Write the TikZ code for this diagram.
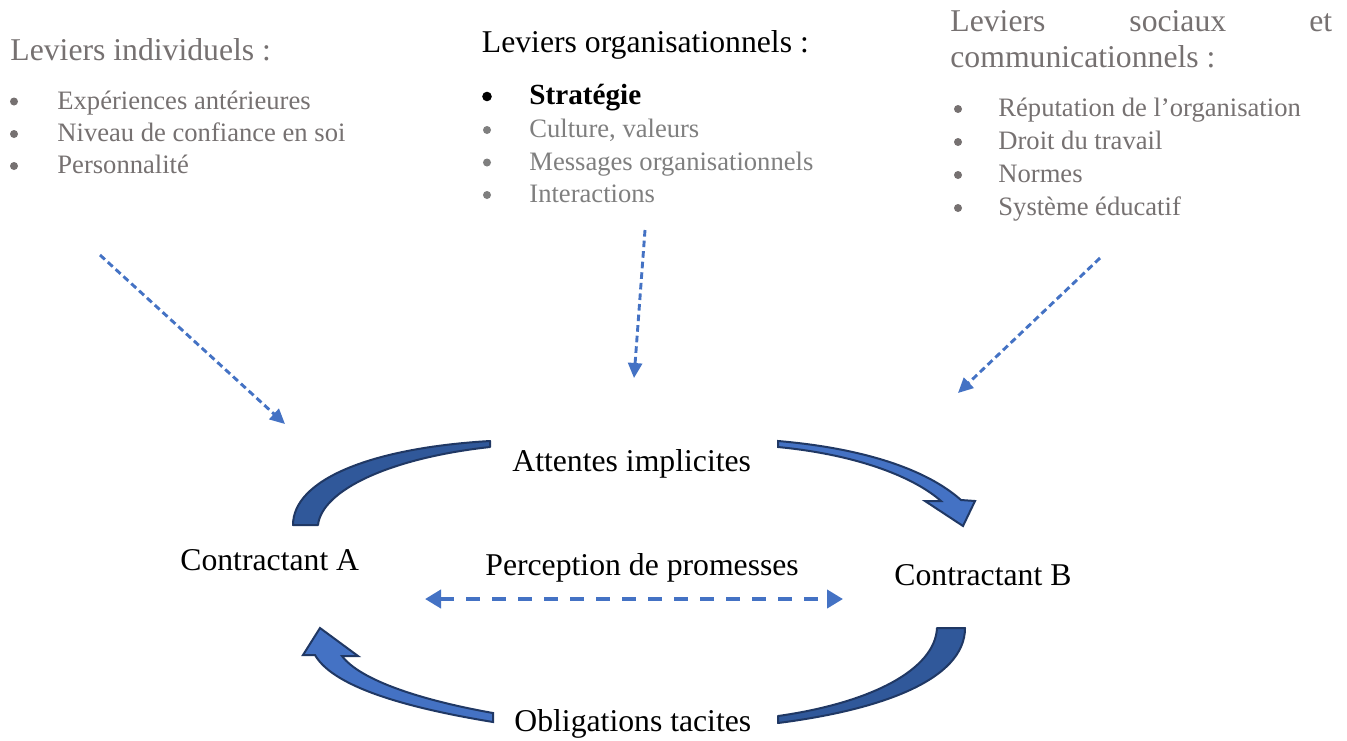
\documentclass[tikz,border=0pt]{standalone}
\usepackage{fontspec}
\setmainfont{Liberation Serif}
\usetikzlibrary{arrows.meta}
\definecolor{levgray}{HTML}{767171}
\definecolor{itemgray}{HTML}{7F7F7F}
\definecolor{arrowblue}{HTML}{4472C4}
\definecolor{darkfill}{HTML}{30589A}
\definecolor{edgenavy}{HTML}{203864}
\tikzset{
  lev/.style={font=\fontsize{15.85}{18}\selectfont, text=levgray, inner sep=0pt, anchor=base west},
  item/.style={font=\fontsize{13.3}{16}\selectfont, text=levgray, inner sep=0pt, anchor=base west},
  itemb/.style={font=\fontsize{13.3}{16}\selectfont, text=itemgray, inner sep=0pt, anchor=base west},
  lab/.style={font=\fontsize{15.85}{18}\selectfont, text=black, inner sep=0pt, anchor=base west},
  bul/.style={fill=levgray},
  dasharrow/.style={draw=arrowblue, line width=1.45pt, dash pattern=on 3.3pt off 2pt, -{Triangle[length=7.5pt,width=7pt]}},
  dblarrow/.style={draw=arrowblue, line width=2.3pt, dash pattern=on 7pt off 6pt, {Triangle[length=8pt,width=9pt]}-{Triangle[length=8pt,width=9pt]}},
  bandD/.style={fill=darkfill, draw=edgenavy, line width=1pt, line join=round},
  bandL/.style={fill=arrowblue, draw=edgenavy, line width=1pt, line join=miter},
}
\begin{document}
\begin{tikzpicture}[x=0.5pt, y=-0.5pt]
\fill[white] (0,0) rectangle (1347,740);
\useasboundingbox (0,0) rectangle (1347,740);

% Left lever group
\node[lev] (li) at (10,60) {Leviers individuels :};
\fill[bul] (14,101.5) circle (4);
\node[item] (li1) at (57,109) {Expériences antérieures};
\fill[bul] (14,134) circle (4);
\node[item] (li2) at (57,141.5) {Niveau de confiance en soi};
\fill[bul] (14,166) circle (4);
\node[item] (li3) at (57,173.5) {Personnalité};

% Middle lever group
\node[lab] (lo) at (481.5,52) {Leviers organisationnels :};
\fill[black] (487,96.5) circle (4.8);
\node[lab, font=\fontsize{14.6}{17}\selectfont\bfseries] (lo1) at (529,104.5) {Stratégie};
\fill[fill=itemgray] (487,130) circle (4);
\node[itemb] (lo2) at (529,137.5) {Culture, valeurs};
\fill[fill=itemgray] (487,162.5) circle (4);
\node[itemb] (lo3) at (529,170) {Messages organisationnels};
\fill[fill=itemgray] (487,195) circle (4);
\node[itemb] (lo4) at (529,202.5) {Interactions};

% Right lever group
\node[lev] (ls) at (950,31) {Leviers};
\node[lev] (ls2) at (1129,31) {sociaux};
\node[lev] (ls3) at (1309,31) {et};
\node[lev] (ls4) at (950,67) {communicationnels :};
\fill[bul] (958,109) circle (4);
\node[item] (ls5) at (998,116.5) {Réputation de l’organisation};
\fill[bul] (958,142) circle (4);
\node[item] (ls6) at (998,149.5) {Droit du travail};
\fill[bul] (958,175) circle (4);
\node[item] (ls7) at (998,182.5) {Normes};
\fill[bul] (958,208) circle (4);
\node[item] (ls8) at (998,215.5) {Système éducatif};

% Dashed influence arrows
\coordinate (a1s) at (100,255);
\coordinate (a1e) at (285,424);
\coordinate (a2s) at (645,230);
\coordinate (a2e) at (634,378);
\coordinate (a3s) at (1100,258);
\coordinate (a3e) at (958,393);
\draw[dasharrow] (a1s) -- (a1e);
\draw[dasharrow] (a2s) -- (a2e);
\draw[dasharrow] (a3s) -- (a3e);

% Curved block arrows
\draw[bandD] (293,525) .. controls (293,480) and (370,448) .. (490,441)
  -- (490,447) .. controls (390,458) and (322,490) .. (318,525) -- cycle;
\draw[bandL] (778,441) .. controls (860,448) and (925,468) .. (961,500)
  -- (975,501) -- (963,526) -- (925,501) -- (941,501)
  .. controls (915,478) and (860,455) .. (778,447) -- cycle;
\draw[bandD] (965,628) .. controls (965,680) and (880,710) .. (778,723)
  -- (778,716) .. controls (870,703) and (935,670) .. (937,628) -- cycle;
\draw[bandL] (493,722) .. controls (420,710) and (335,690) .. (315,655)
  -- (303,655) -- (320,628) -- (358,656) -- (342,656)
  .. controls (360,680) and (420,700) .. (493,713) -- cycle;

% Main labels
\node[lab] (att) at (512,471) {Attentes implicites};
\node[lab] (ca) at (180,570.5) {Contractant A};
\node[lab] (pp) at (485,575) {Perception de promesses};
\node[lab] (cb) at (894,585.5) {Contractant B};
\node[lab] (ob) at (514,731) {Obligations tacites};

% Double dashed arrow
\coordinate (d1) at (425,599);
\coordinate (d2) at (843,599);
\draw[dblarrow] (d1) -- (d2);
\end{tikzpicture}
\end{document}
